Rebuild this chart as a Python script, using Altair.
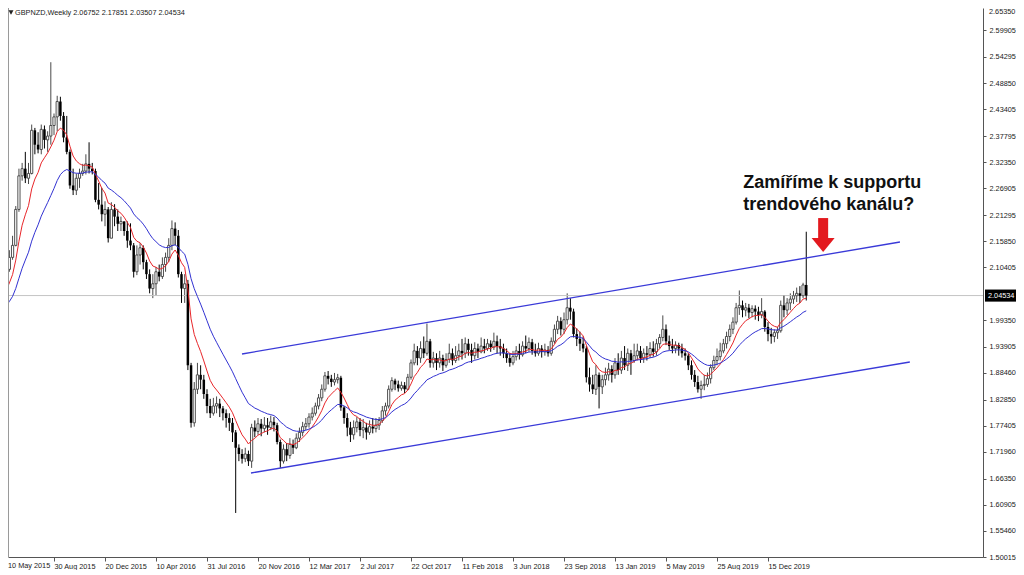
import altair as alt
import pandas as pd

# ---------------- data ----------------
tick_labels = ["10 May 2015", "30 Aug 2015", "20 Dec 2015", "10 Apr 2016", "31 Jul 2016",
               "20 Nov 2016", "12 Mar 2017", "2 Jul 2017", "22 Oct 2017", "11 Feb 2018",
               "3 Jun 2018", "23 Sep 2018", "13 Jan 2019", "5 May 2019", "25 Aug 2019",
               "15 Dec 2019"]
label_step = 16  # weeks between date labels

y_tick_values = [2.59905, 2.54295, 2.48850, 2.43405, 2.37795, 2.32350, 2.26905,
                 2.21295, 2.15850, 2.10405, 1.99350, 1.93905, 1.88460, 1.82850, 1.77405,
                 1.71960, 1.66350, 1.60905, 1.55460, 1.50015]
top_tick_label = "2.65350"

closes = [
    2.128, 2.100, 2.125, 2.150, 2.225, 2.295, 2.310, 2.290, 2.300, 2.390,
    2.360, 2.350, 2.392, 2.370, 2.378, 2.400, 2.418, 2.450, 2.420, 2.375,
    2.345, 2.275, 2.265, 2.290, 2.300, 2.305, 2.320, 2.310, 2.305, 2.245,
    2.235, 2.215, 2.225, 2.165, 2.225, 2.210, 2.195, 2.200, 2.180, 2.160,
    2.150, 2.095, 2.130, 2.145, 2.115, 2.090, 2.060, 2.070, 2.095, 2.085,
    2.110, 2.125, 2.150, 2.185, 2.170, 2.090, 2.060, 2.070, 1.900, 1.780,
    1.850, 1.880, 1.870, 1.840, 1.815, 1.800, 1.815, 1.820, 1.810, 1.800,
    1.790, 1.780, 1.760, 1.728, 1.715, 1.705, 1.715, 1.700, 1.770, 1.762,
    1.778, 1.768, 1.775, 1.770, 1.782, 1.775, 1.740, 1.700, 1.725, 1.712,
    1.735, 1.728, 1.748, 1.760, 1.772, 1.778, 1.792, 1.800, 1.815, 1.832,
    1.850, 1.878, 1.872, 1.865, 1.870, 1.874, 1.812, 1.790, 1.770, 1.755,
    1.770, 1.782, 1.765, 1.770, 1.760, 1.772, 1.768, 1.775, 1.785, 1.805,
    1.815, 1.850, 1.868, 1.860, 1.852, 1.858, 1.850, 1.875, 1.905, 1.930,
    1.915, 1.935, 1.925, 1.950, 1.905, 1.915, 1.905, 1.915, 1.900, 1.912,
    1.925, 1.910, 1.920, 1.930, 1.925, 1.945, 1.932, 1.920, 1.935, 1.928,
    1.940, 1.935, 1.945, 1.938, 1.950, 1.940, 1.935, 1.925, 1.915, 1.905,
    1.918, 1.930, 1.922, 1.940, 1.935, 1.948, 1.930, 1.925, 1.935, 1.928,
    1.932, 1.925, 1.950, 1.975, 1.992, 1.975, 1.995, 2.020, 2.012, 1.965,
    1.955, 1.945, 1.935, 1.875, 1.860, 1.850, 1.880, 1.855, 1.870, 1.880,
    1.892, 1.880, 1.905, 1.890, 1.915, 1.900, 1.925, 1.910, 1.920, 1.930,
    1.915, 1.925, 1.922, 1.935, 1.928, 1.945, 1.958, 1.975, 1.950, 1.940,
    1.935, 1.942, 1.935, 1.925, 1.920, 1.900, 1.880, 1.865, 1.850, 1.858,
    1.860, 1.872, 1.895, 1.910, 1.918, 1.930, 1.945, 1.960, 1.975, 1.990,
    2.020, 2.025, 2.015, 2.020, 2.010, 2.018, 2.012, 2.005, 2.012, 1.980,
    1.965, 1.960, 1.968, 1.972, 2.025, 2.015, 2.030, 2.038, 2.045, 2.050,
    2.045, 2.0675, 2.04534,
]

highs = [
    2.144, 2.135, 2.140, 2.170, 2.232, 2.310, 2.322, 2.345, 2.322, 2.402,
    2.395, 2.386, 2.402, 2.400, 2.388, 2.532, 2.425, 2.462, 2.460, 2.428,
    2.420, 2.350, 2.310, 2.300, 2.310, 2.320, 2.340, 2.365, 2.322, 2.310,
    2.280, 2.270, 2.242, 2.230, 2.240, 2.236, 2.225, 2.210, 2.200, 2.200,
    2.196, 2.155, 2.150, 2.155, 2.150, 2.120, 2.100, 2.090, 2.105, 2.110,
    2.125, 2.135, 2.165, 2.202, 2.198, 2.182, 2.095, 2.090, 2.078, 1.905,
    1.865, 1.905, 1.900, 1.880, 1.850, 1.830, 1.832, 1.835, 1.830, 1.815,
    1.808, 1.800, 1.790, 1.765, 1.735, 1.725, 1.728, 1.722, 1.778, 1.785,
    1.790, 1.788, 1.792, 1.790, 1.795, 1.792, 1.780, 1.745, 1.735, 1.738,
    1.748, 1.745, 1.758, 1.770, 1.782, 1.790, 1.800, 1.812, 1.822, 1.840,
    1.860, 1.886, 1.888, 1.880, 1.884, 1.882, 1.878, 1.815, 1.800, 1.782,
    1.785, 1.792, 1.790, 1.788, 1.780, 1.785, 1.790, 1.790, 1.792, 1.815,
    1.822, 1.858, 1.875, 1.872, 1.868, 1.866, 1.865, 1.882, 1.912, 1.945,
    1.940, 1.950, 1.960, 1.987, 1.955, 1.928, 1.925, 1.930, 1.922, 1.925,
    1.945, 1.935, 1.940, 1.945, 1.955, 1.958, 1.955, 1.945, 1.948, 1.945,
    1.958, 1.955, 1.955, 1.952, 1.968, 1.962, 1.955, 1.945, 1.935, 1.925,
    1.930, 1.940, 1.945, 1.950, 1.962, 1.958, 1.955, 1.945, 1.947, 1.942,
    1.945, 1.940, 1.958, 1.985, 2.003, 2.000, 2.010, 2.050, 2.040, 2.018,
    1.977, 1.970, 1.960, 1.940, 1.895, 1.880, 1.900, 1.885, 1.880, 1.895,
    1.905, 1.900, 1.915, 1.925, 1.930, 1.940, 1.935, 1.932, 1.945, 1.945,
    1.940, 1.935, 1.940, 1.948, 1.950, 1.955, 1.965, 2.004, 1.985, 1.962,
    1.955, 1.950, 1.947, 1.945, 1.935, 1.925, 1.910, 1.890, 1.878, 1.868,
    1.880, 1.885, 1.902, 1.920, 1.935, 1.947, 1.955, 1.970, 1.985, 2.000,
    2.030, 2.056, 2.035, 2.030, 2.028, 2.025, 2.025, 2.022, 2.040, 2.015,
    1.990, 1.978, 1.975, 1.980, 2.035, 2.045, 2.040, 2.050, 2.055, 2.062,
    2.065, 2.072, 2.17851,
]

lows = [
    2.066, 2.090, 2.095, 2.120, 2.148, 2.220, 2.285, 2.280, 2.278, 2.298,
    2.340, 2.342, 2.340, 2.352, 2.345, 2.360, 2.380, 2.388, 2.410, 2.365,
    2.340, 2.268, 2.255, 2.255, 2.270, 2.295, 2.298, 2.300, 2.298, 2.240,
    2.225, 2.200, 2.190, 2.156, 2.165, 2.190, 2.180, 2.180, 2.170, 2.145,
    2.140, 2.083, 2.088, 2.110, 2.100, 2.080, 2.050, 2.040, 2.045, 2.075,
    2.080, 2.095, 2.115, 2.140, 2.150, 2.083, 2.030, 2.030, 1.890, 1.770,
    1.772, 1.840, 1.850, 1.830, 1.800, 1.790, 1.795, 1.800, 1.792, 1.785,
    1.770, 1.763, 1.740, 1.592, 1.700, 1.695, 1.698, 1.690, 1.686, 1.750,
    1.755, 1.752, 1.760, 1.755, 1.765, 1.762, 1.735, 1.686, 1.695, 1.700,
    1.705, 1.715, 1.725, 1.740, 1.752, 1.765, 1.770, 1.785, 1.795, 1.808,
    1.825, 1.845, 1.860, 1.855, 1.858, 1.862, 1.805, 1.778, 1.752, 1.740,
    1.745, 1.760, 1.752, 1.748, 1.745, 1.755, 1.758, 1.760, 1.765, 1.780,
    1.795, 1.810, 1.845, 1.848, 1.845, 1.847, 1.842, 1.848, 1.870, 1.900,
    1.900, 1.905, 1.915, 1.920, 1.895, 1.895, 1.890, 1.895, 1.888, 1.895,
    1.905, 1.900, 1.905, 1.910, 1.912, 1.915, 1.920, 1.905, 1.912, 1.915,
    1.925, 1.925, 1.930, 1.928, 1.932, 1.925, 1.920, 1.915, 1.905, 1.897,
    1.900, 1.910, 1.912, 1.918, 1.925, 1.928, 1.922, 1.918, 1.920, 1.916,
    1.920, 1.918, 1.920, 1.945, 1.965, 1.962, 1.965, 1.985, 1.995, 1.958,
    1.940, 1.930, 1.927, 1.864, 1.845, 1.840, 1.838, 1.810, 1.840, 1.858,
    1.868, 1.864, 1.872, 1.880, 1.882, 1.890, 1.888, 1.880, 1.905, 1.910,
    1.905, 1.905, 1.910, 1.915, 1.918, 1.920, 1.935, 1.950, 1.942, 1.932,
    1.925, 1.925, 1.920, 1.916, 1.910, 1.890, 1.870, 1.855, 1.843, 1.830,
    1.848, 1.855, 1.862, 1.890, 1.900, 1.910, 1.925, 1.935, 1.950, 1.965,
    1.985, 2.005, 2.000, 2.002, 1.998, 2.000, 1.995, 1.992, 1.998, 1.970,
    1.950, 1.945, 1.948, 1.955, 1.968, 2.000, 2.005, 2.015, 2.028, 2.032,
    2.030, 2.040, 2.03507,
]

first_open = 2.090
last_open = 2.06752
fast_period, slow_period = 8, 21
fast_seed, slow_seed = 2.020, 2.005     # MA values at the left edge of the picture
current_price = 2.04534
header_text = "GBPNZD,Weekly  2.06752 2.17851 2.03507 2.04534"
note_lines = ["Zamíříme k supportu", "trendového kanálu?"]
note_week = 232.2
note_prices = [2.2697, 2.2238]
upper_weeks, upper_prices = [74.98, 281.4], [1.9235, 2.1571]
lower_weeks, lower_prices = [77.8, 284.5], [1.6753, 1.9068]
arrow_week = 257.3
arrow_shaft = [2.207, 2.158]
arrow_head_price = 2.1508

# ---------------- tables ----------------
n = len(closes)
weeks = list(range(n))
opens = [first_open] + closes[:-1]
opens[-1] = last_open
candles = pd.DataFrame({"week": weeks, "open": opens, "close": closes,
                        "high": highs[:n], "low": lows[:n]})
candles["up"] = candles["close"] >= candles["open"]
bulls = candles[candles["up"]]
bears = candles[~candles["up"]]


def ema(values, period, seed):
    a = 2.0 / (period + 1)
    out, e = [], seed
    for v in values:
        e = e + a * (v - e)
        out.append(e)
    return out


ma = pd.DataFrame({
    "week": [-1] + weeks,
    "fast": [fast_seed] + ema(closes, fast_period, fast_seed),
    "slow": [slow_seed] + ema(closes, slow_period, slow_seed),
})

channels = pd.DataFrame({
    "w1": [upper_weeks[0], lower_weeks[0]], "w2": [upper_weeks[1], lower_weeks[1]],
    "p1": [upper_prices[0], lower_prices[0]], "p2": [upper_prices[1], lower_prices[1]],
})
notes = pd.DataFrame({"week": [note_week] * 2, "price": note_prices, "text": note_lines})
arrow = pd.DataFrame({"week": [arrow_week], "p1": [arrow_shaft[0]], "p2": [arrow_shaft[1]],
                      "head": [arrow_head_price]})
price_df = pd.DataFrame({"price": [current_price], "label": [f"{current_price:.5f}"]})
one = pd.DataFrame({"t": [header_text], "top": [top_tick_label], "first": [tick_labels[0]]})

# ---------------- scales / axes ----------------
W, H = 975, 549
FONT = "Liberation Sans"
LBL = 7.3
x_scale = alt.Scale(domain=[1.5686, 307.45], nice=False, zero=False, padding=0)
y_scale = alt.Scale(domain=[1.50015, 2.64507], nice=False, zero=False, padding=0)

label_js = "[" + ",".join("'" + s + "'" for s in tick_labels) + "]"
x_axis = alt.Axis(values=[i * label_step for i in range(len(tick_labels))],
                  labelExpr=f"{label_js}[round(datum.value / {label_step})]",
                  title=None, grid=False, labelAlign="left", labelBaseline="top",
                  labelPadding=1, tickSize=4, labelFlush=False, labelOverlap=False,
                  labelFont=FONT, labelFontSize=LBL, labelColor="#1a1a1a",
                  domainColor="#555555", tickColor="#555555", labelBound=False)
y_axis = alt.Axis(orient="right", values=y_tick_values, format=".5f", title=None,
                  grid=False, tickSize=3, labelPadding=3, labelFlush=False,
                  labelOverlap=False, labelFont=FONT, labelFontSize=LBL,
                  labelColor="#1a1a1a", domainColor="#555555", tickColor="#555555")


def X(field):
    return alt.X(field, type="quantitative", scale=x_scale, axis=x_axis)


def Y(field):
    return alt.Y(field, type="quantitative", scale=y_scale, axis=y_axis)


price_line = alt.Chart(price_df).mark_rule(color="#c4c4c4", strokeWidth=1).encode(y=Y("price"))

wicks_bull = alt.Chart(bulls).mark_rule(color="#4a4a4a", strokeWidth=1).encode(
    x=X("week"), y=Y("low"), y2="high")
wicks_bear = alt.Chart(bears).mark_rule(color="#000000", strokeWidth=1).encode(
    x=X("week"), y=Y("low"), y2="high")
body_bull = alt.Chart(bulls).mark_bar(size=2.2, fill="#ffffff", stroke="#404040",
                                      strokeWidth=0.9).encode(
    x=X("week"), y=Y("open"), y2="close")
body_bear = alt.Chart(bears).mark_bar(size=2.5, fill="#000000").encode(
    x=X("week"), y=Y("open"), y2="close")

fast_line = alt.Chart(ma).mark_line(color="#e8262a", strokeWidth=1, clip=True).encode(
    x=X("week"), y=Y("fast"))
slow_line = alt.Chart(ma).mark_line(color="#3232d2", strokeWidth=1, clip=True).encode(
    x=X("week"), y=Y("slow"))

channel_lines = alt.Chart(channels).mark_rule(color="#3a3ad8", strokeWidth=1.3).encode(
    x=X("w1"), x2="w2", y=Y("p1"), y2="p2")

note_text = alt.Chart(notes).mark_text(align="left", baseline="alphabetic", font=FONT,
                                       fontSize=18, fontWeight="bold", color="#111111").encode(
    x=X("week"), y=Y("price"), text="text:N")

arrow_shaft_mark = alt.Chart(arrow).mark_rule(color="#e3191e", strokeWidth=10,
                                              strokeCap="butt").encode(
    x=X("week"), y=Y("p1"), y2="p2")
arrow_head_mark = alt.Chart(arrow).mark_point(
    shape="M -1 -0.6 L 1 -0.6 L 0 0.6 Z", size=529, filled=True, color="#e3191e",
    opacity=1).encode(x=X("week"), y=Y("head"))

left_border = alt.Chart(one).mark_rule(color="#9a9a9a", strokeWidth=1).encode(
    x=alt.value(0.5), y=alt.value(0), y2=alt.value(H))

header_tri = alt.Chart(one).mark_point(shape="triangle-down", size=25, filled=True,
                                       color="#222222", opacity=1).encode(
    x=alt.value(3), y=alt.value(4.5))
header = alt.Chart(one).mark_text(align="left", baseline="middle", font=FONT, fontSize=LBL,
                                  color="#1a1a1a").encode(
    x=alt.value(7), y=alt.value(4.5), text="t:N")

top_label = alt.Chart(one).mark_text(align="left", baseline="middle", font=FONT,
                                     fontSize=LBL, color="#1a1a1a").encode(
    x=alt.value(W + 6), y=alt.value(4), text="top:N")
first_date = alt.Chart(one).mark_text(align="left", baseline="top", font=FONT,
                                      fontSize=LBL, color="#1a1a1a").encode(
    x=alt.value(0), y=alt.value(H + 5), text="first:N")

price_box = alt.Chart(price_df).mark_point(
    shape="M -1 -0.39 L 1 -0.39 L 1 0.39 L -1 0.39 Z", size=961, filled=True,
    color="#000000", opacity=1).encode(x=alt.value(W + 17.5), y=Y("price"))
price_label = alt.Chart(price_df).mark_text(align="left", baseline="middle", font=FONT,
                                            fontSize=LBL, color="#ffffff").encode(
    x=alt.value(W + 5), y=Y("price"), text="label:N")

chart = alt.layer(
    wicks_bull, price_line, wicks_bear, body_bull, body_bear, fast_line, slow_line,
    channel_lines, note_text, arrow_shaft_mark, arrow_head_mark, left_border,
    header_tri, header, top_label, first_date, price_box, price_label,
).properties(
    width=W, height=H,
    autosize=alt.AutoSizeParams(type="none"),
    padding={"left": 0, "top": 0, "right": 33, "bottom": 13},
    background="#ffffff",
).configure_view(stroke=None)

chart.save("out.html", embed_options={"renderer": "svg", "actions": False})
